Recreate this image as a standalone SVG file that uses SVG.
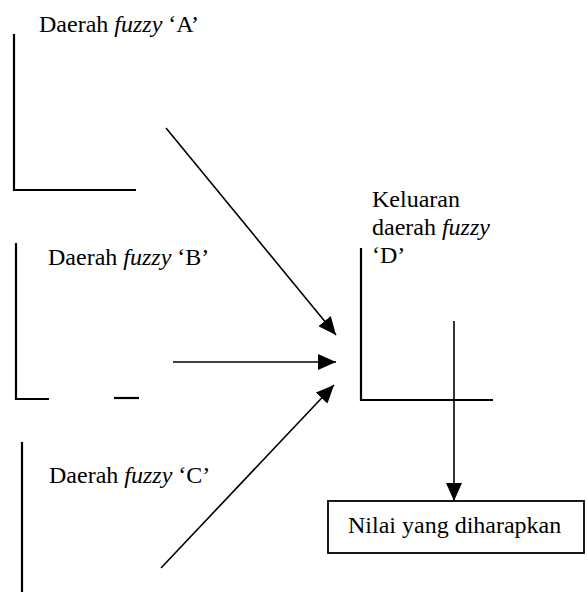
<svg xmlns="http://www.w3.org/2000/svg" width="587" height="597" viewBox="0 0 587 597">
  <defs>
    <style>
      text { font-family: 'Liberation Serif', 'DejaVu Serif', 'Times New Roman', serif; font-size: 24px; fill: #000; }
      .i { font-style: italic; }
      .ax { stroke: #000; stroke-width: 2.2; fill: none; }
      .cn { stroke: #000; stroke-width: 1.6; fill: none; marker-end: url(#ah); }
      .box { stroke: #000; stroke-width: 1.8; fill: #fff; }
    </style>
    <marker id="ah" markerUnits="userSpaceOnUse" markerWidth="19" markerHeight="16" viewBox="0 0 19 16" refX="18" refY="8" orient="auto">
      <path d="M0,0 L18,8 L0,16 z" fill="#000"/>
    </marker>
  </defs>
  <rect width="587" height="597" fill="#fff"/>

  <g id="fuzzyA">
    <text x="39" y="32" font-family="Liberation Serif, serif">Daerah <tspan class="i">fuzzy</tspan> ‘A’</text>
    <polyline class="ax" points="14,34 14,190 136,190"/>
  </g>

  <g id="fuzzyB">
    <text x="48" y="265" font-family="Liberation Serif, serif">Daerah <tspan class="i">fuzzy</tspan> ‘B’</text>
    <polyline class="ax" points="16,243 16,399 49,399"/>
    <line class="ax" x1="114" y1="398" x2="139" y2="398"/>
  </g>

  <g id="fuzzyC">
    <text x="49" y="483" font-family="Liberation Serif, serif">Daerah <tspan class="i">fuzzy</tspan> ‘C’</text>
    <line class="ax" x1="22" y1="442" x2="22" y2="592"/>
  </g>

  <g id="fuzzyD">
    <text x="372" y="207" font-family="Liberation Serif, serif">Keluaran</text>
    <text x="372" y="235" font-family="Liberation Serif, serif">daerah <tspan class="i">fuzzy</tspan></text>
    <text x="372" y="263" font-family="Liberation Serif, serif">‘D’</text>
    <polyline class="ax" points="361,248 361,400 493,400"/>
  </g>

  <g id="hasil">
    <rect class="box" x="328" y="501" width="256" height="52"/>
    <text x="348" y="533" font-family="Liberation Serif, serif">Nilai yang diharapkan</text>
  </g>

  <g id="connectors">
    <line class="cn" x1="166" y1="128" x2="336" y2="335"/>
    <line class="cn" x1="173" y1="362" x2="336" y2="362"/>
    <line class="cn" x1="161" y1="568" x2="334" y2="385"/>
    <line class="cn" x1="454" y1="321" x2="454" y2="501"/>
  </g>
</svg>
